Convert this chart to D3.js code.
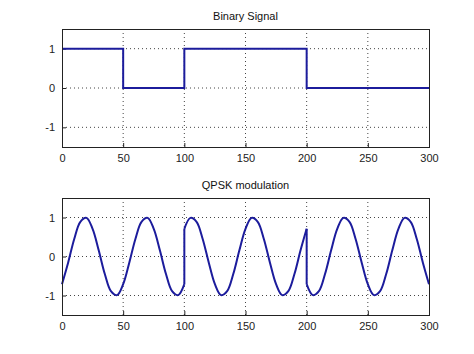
<!DOCTYPE html>
<html>
<head>
<meta charset="utf-8">
<script src="https://cdn.jsdelivr.net/npm/d3@7"></script>
<style>
  body { margin: 0; background: #fff; }
  svg { display: block; font-family: "Liberation Sans", Arial, sans-serif; }
  .tick text { fill: #222; font-size: 11px; }
  .title { fill: #111; font-size: 11px; }
</style>
</head>
<body>
<div id="chart"></div>
<script>
const W = 474, H = 354;

// binary signal: one bit per 50 samples
const bitStarts = [0, 50, 100, 150, 200, 250, 300];
const bits = [1, 0, 1, 1, 0, 0, 0];

// QPSK waveform, read every 5 samples, one array per symbol (100 samples each)
const qpskStep = 5;
const qpskSeg1 = [-0.71, -0.16, 0.45, 0.89, 0.99, 0.71, 0.16, -0.45, -0.89, -0.99,
  -0.71, -0.16, 0.45, 0.89, 0.99, 0.71, 0.16, -0.45, -0.89, -0.99, -0.71];
const qpskSeg2 = [0.71, 0.99, 0.89, 0.45, -0.16, -0.71, -0.99, -0.89, -0.45, 0.16,
  0.71, 0.99, 0.89, 0.45, -0.16, -0.71, -0.99, -0.89, -0.45, 0.16, 0.71];
const qpskSeg3 = [-0.71, -0.99, -0.89, -0.45, 0.16, 0.71, 0.99, 0.89, 0.45, -0.16,
  -0.71, -0.99, -0.89, -0.45, 0.16, 0.71, 0.99, 0.89, 0.45, -0.16, -0.71];
const qpskStarts = [0, 100, 200];

const xTicks = [0, 50, 100, 150, 200, 250, 300];
const yTicks = [-1, 0, 1];

const svg = d3.select("#chart").append("svg").attr("width", W).attr("height", H);

function panel(top, bottom, title) {
  const left = 62, right = 429;
  const x = d3.scaleLinear().domain([0, 300]).range([left, right]);
  const y = d3.scaleLinear().domain([-1.5, 1.5]).range([bottom, top]);
  const g = svg.append("g");

  // dotted grid
  g.selectAll(".gx").data(xTicks.slice(1, -1)).enter().append("line")
    .attr("x1", (d) => x(d)).attr("x2", (d) => x(d))
    .attr("y1", top).attr("y2", bottom)
    .attr("stroke", "#444").attr("stroke-width", 1).attr("stroke-dasharray", "1,3");
  g.selectAll(".gy").data(yTicks).enter().append("line")
    .attr("x1", left).attr("x2", right)
    .attr("y1", (d) => y(d)).attr("y2", (d) => y(d))
    .attr("stroke", "#444").attr("stroke-width", 1).attr("stroke-dasharray", "1,3");

  const xa = g.append("g").attr("transform", `translate(0,${bottom})`)
    .call(d3.axisBottom(x).tickValues(xTicks).tickSize(-4).tickPadding(7).tickFormat((d) => String(d)));
  const ya = g.append("g").attr("transform", `translate(${left},0)`)
    .call(d3.axisLeft(y).tickValues(yTicks).tickSize(-4).tickPadding(7).tickFormat((d) => String(d)));
  [xa, ya].forEach((a) => {
    a.select(".domain").remove();
    a.selectAll(".tick line").attr("stroke", "#222");
  });

  g.append("text").attr("class", "title")
    .attr("x", (left + right) / 2).attr("y", top - 9)
    .attr("text-anchor", "middle").text(title);

  return { g, x, y, left, right, top, bottom };
}

function box(p) {
  p.g.append("rect")
    .attr("x", p.left + 0.5).attr("y", p.top + 0.5)
    .attr("width", p.right - p.left).attr("height", p.bottom - p.top)
    .attr("fill", "none").attr("stroke", "#222").attr("stroke-width", 1);
}

const lineColor = "#1c1c9c";

// top: binary signal
const p1 = panel(29, 147, "Binary Signal");
const binData = bitStarts.map((s, i) => [s, bits[i]]);
p1.g.append("path").datum(binData)
  .attr("fill", "none").attr("stroke", lineColor).attr("stroke-width", 2)
  .attr("d", d3.line().x((d) => p1.x(d[0])).y((d) => p1.y(d[1])).curve(d3.curveStepAfter));
box(p1);

// bottom: QPSK modulation
const p2 = panel(198, 315, "QPSK modulation");
const segs = [qpskSeg1, qpskSeg2, qpskSeg3].map((vals, k) =>
  vals.map((v, i) => [qpskStarts[k] + i * qpskStep, v]));
const curve = d3.line().x((d) => p2.x(d[0])).y((d) => p2.y(d[1])).curve(d3.curveCatmullRom.alpha(0.5));
const straight = d3.line().x((d) => p2.x(d[0])).y((d) => p2.y(d[1]));
segs.forEach((s, k) => {
  p2.g.append("path").datum(s)
    .attr("fill", "none").attr("stroke", lineColor).attr("stroke-width", 2)
    .attr("stroke-linejoin", "round").attr("d", curve);
  if (k > 0) {
    const prev = segs[k - 1];
    p2.g.append("path").datum([prev[prev.length - 1], s[0]])
      .attr("fill", "none").attr("stroke", lineColor).attr("stroke-width", 2)
      .attr("d", straight);
  }
});
box(p2);
</script>
</body>
</html>
